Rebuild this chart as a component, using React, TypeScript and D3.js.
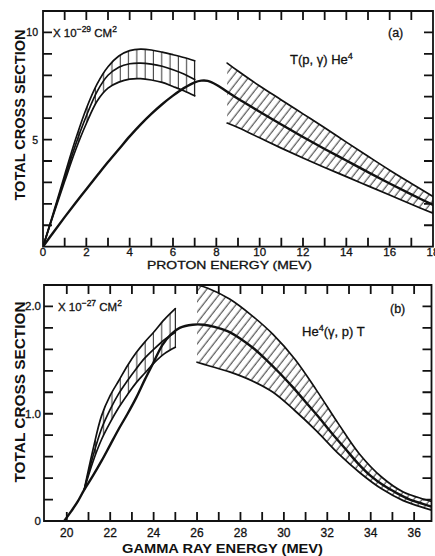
import React from 'react';
import * as d3 from 'd3';

// ---- panel (a): T(p, gamma) He4, x = proton energy (MeV), y = 1e-29 cm^2
const aTheoryX = [0, 0.5, 1, 1.5, 2, 2.5, 3, 3.5, 4, 4.5, 5, 5.5, 6, 6.5, 7, 7.3, 7.6, 8, 8.5, 9, 10, 11, 12, 13, 14, 15, 16, 17, 18];
const aTheoryY = [0, 0.7, 1.38, 2.04, 2.68, 3.32, 3.95, 4.55, 5.15, 5.7, 6.2, 6.65, 7.05, 7.4, 7.67, 7.75, 7.74, 7.56, 7.23, 6.9, 6.3, 5.7, 5.12, 4.56, 4.02, 3.48, 2.95, 2.44, 1.95];

const aBandX = [0, 0.5, 1, 1.5, 2, 2.5, 3, 3.5, 4, 4.5, 5, 5.5, 6, 6.5, 7];
const aBandHi = [0, 1.65, 3.35, 5.0, 6.45, 7.6, 8.4, 8.9, 9.15, 9.22, 9.18, 9.08, 8.96, 8.83, 8.68];
const aBandMid = [0, 1.6, 3.2, 4.75, 6.1, 7.25, 8.0, 8.38, 8.54, 8.57, 8.52, 8.42, 8.26, 8.06, 7.8];
const aBandLo = [0, 1.55, 3.05, 4.5, 5.75, 6.8, 7.4, 7.68, 7.82, 7.84, 7.78, 7.67, 7.48, 7.28, 7.04];

const aWideX = [8.5, 9, 10, 11, 12, 13, 14, 15, 16, 17, 18];
const aWideHi = [8.57, 8.2, 7.5, 6.85, 6.2, 5.55, 4.88, 4.22, 3.57, 2.95, 2.34];
const aWideLo = [5.77, 5.56, 5.08, 4.6, 4.14, 3.7, 3.27, 2.84, 2.41, 1.98, 1.56];

const aXTicks = d3.range(1, 18);
const aXLabels = [0, 2, 4, 6, 8, 10, 12, 14, 16, 18];
const aYTicks = d3.range(1, 11);
const aYLabels = [5, 10];

// ---- panel (b): He4(gamma, p) T, x = gamma ray energy (MeV), y = 1e-27 cm^2
const bTheoryX = [19.88, 20.2, 20.5, 20.8, 21.2, 21.6, 22, 22.4, 22.8, 23.2, 23.6, 24, 24.4, 24.8, 25.2, 25.8, 26.3, 26.8, 27.4, 28, 28.6, 29.2, 29.8, 30.4, 31, 31.6, 32.2, 32.8, 33.4, 34, 34.6, 35.2, 35.8, 36.4, 37];
const bTheoryY = [0, 0.09, 0.18, 0.29, 0.42, 0.56, 0.71, 0.86, 1.0, 1.15, 1.32, 1.48, 1.64, 1.74, 1.8, 1.83, 1.83, 1.81, 1.77, 1.7, 1.61, 1.5, 1.38, 1.25, 1.11, 0.97, 0.82, 0.68, 0.54, 0.42, 0.33, 0.26, 0.2, 0.16, 0.12];

const bBandX = [20.8, 21.2, 21.6, 22, 22.4, 22.8, 23.2, 23.6, 24, 24.5, 25];
const bBandHi = [0.29, 0.66, 0.98, 1.17, 1.31, 1.45, 1.57, 1.67, 1.76, 1.88, 1.98];
const bBandMid = [0.29, 0.6, 0.86, 1.04, 1.19, 1.31, 1.42, 1.52, 1.6, 1.69, 1.76];
const bBandLo = [0.29, 0.55, 0.76, 0.92, 1.06, 1.18, 1.29, 1.38, 1.47, 1.56, 1.62];

const bWideX = [26, 26.5, 27.5, 28.5, 29.5, 30.5, 31.5, 32.5, 33.5, 34.5, 35.5, 36.5, 37];
const bWideHi = [2.2, 2.17, 2.07, 1.92, 1.74, 1.51, 1.22, 0.91, 0.62, 0.41, 0.27, 0.2, 0.17];
const bWideLo = [1.48, 1.45, 1.39, 1.31, 1.2, 1.03, 0.84, 0.63, 0.45, 0.3, 0.19, 0.12, 0.09];

const bXTicks = d3.range(20, 37);
const bXLabels = [20, 22, 24, 26, 28, 30, 32, 34, 36];
const bYTicks = d3.range(1, 11).map((i) => i * 0.2);
const bYLabels = ['0', '1.0', '2.0'];

const INK = '#111';
const FONT = '"Liberation Sans", Arial, sans-serif';
const TICK = 9;

const zip = (xs, ys) => xs.map((x, i) => [x, ys[i]]);

function Panel(props) {
  const { id, xDomain, xRange, yDomain, yRange, theory, band, wide, xTicks, yTicks } = props;
  const x = d3.scaleLinear().domain(xDomain).range(xRange);
  const y = d3.scaleLinear().domain(yDomain).range(yRange);
  const curve = d3.curveCatmullRom.alpha(0.5);
  const line = d3.line().x((d) => x(d[0])).y((d) => y(d[1])).curve(curve);
  const area = d3.area().x((d) => x(d.x)).y0((d) => y(d.lo)).y1((d) => y(d.hi)).curve(curve);
  const rows = (xs, hi, lo) => xs.map((v, i) => ({ x: v, hi: hi[i], lo: lo[i] }));

  const [x0, x1] = xRange;
  const [y0, y1] = yRange; // y0 bottom, y1 top
  const last = band.x.length - 1;

  // frame and inward ticks in one path
  const p = d3.path();
  p.moveTo(x0, y1);
  p.lineTo(x1, y1);
  p.lineTo(x1, y0);
  p.lineTo(x0, y0);
  p.closePath();
  xTicks.forEach((t) => {
    p.moveTo(x(t), y0);
    p.lineTo(x(t), y0 - TICK);
    p.moveTo(x(t), y1);
    p.lineTo(x(t), y1 + TICK);
  });
  yTicks.forEach((t) => {
    p.moveTo(x0, y(t));
    p.lineTo(x0 + TICK, y(t));
    p.moveTo(x1, y(t));
    p.lineTo(x1 - TICK, y(t));
  });

  return (
    <g>
      <defs>
        <clipPath id={`clip-${id}`}>
          <rect x={x0} y={y1} width={x1 - x0} height={y0 - y1} />
        </clipPath>
      </defs>
      <g clipPath={`url(#clip-${id})`}>
        <path d={area(rows(band.x, band.hi, band.lo))} fill="url(#vhatch)" />
        <path d={area(rows(wide.x, wide.hi, wide.lo))} fill="url(#dhatch)" />
        <g fill="none" stroke={INK} strokeLinejoin="round" strokeLinecap="round">
          <path d={line(zip(band.x, band.hi))} strokeWidth={1.7} />
          <path d={line(zip(band.x, band.mid))} strokeWidth={1.7} />
          <path d={line(zip(band.x, band.lo))} strokeWidth={1.7} />
          <path d={`M${x(band.x[last])},${y(band.lo[last])}V${y(band.hi[last])}`} strokeWidth={1.1} />
          <path d={line(zip(wide.x, wide.hi))} strokeWidth={1.7} />
          <path d={line(zip(wide.x, wide.lo))} strokeWidth={1.7} />
          <path d={line(zip(theory.x, theory.y))} strokeWidth={2.4} />
        </g>
      </g>
      <path d={p.toString()} fill="none" stroke={INK} strokeWidth={1.8} />
      {props.children(x, y)}
    </g>
  );
}

export default function App() {
  return (
    <svg
      width={435}
      height={556}
      viewBox="0 0 435 556"
      style={{ position: 'absolute', left: 0, top: 0, background: '#fff' }}
      fontFamily={FONT}
    >
      <defs>
        <pattern id="vhatch" width={8.3} height={10} patternUnits="userSpaceOnUse">
          <path d="M4,0V10" stroke={INK} strokeWidth={0.9} />
        </pattern>
        <pattern id="dhatch" width={6.5} height={10} patternUnits="userSpaceOnUse" patternTransform="rotate(38)">
          <path d="M3,0V10" stroke={INK} strokeWidth={0.9} />
        </pattern>
      </defs>
      <rect width={435} height={556} fill="#fff" />

      <Panel
        id="a"
        xDomain={[0, 18]}
        xRange={[43, 433]}
        yDomain={[0, 11]}
        yRange={[246.7, 11]}
        theory={{ x: aTheoryX, y: aTheoryY }}
        band={{ x: aBandX, hi: aBandHi, mid: aBandMid, lo: aBandLo }}
        wide={{ x: aWideX, hi: aWideHi, lo: aWideLo }}
        xTicks={aXTicks}
        yTicks={aYTicks}
      >
        {(x, y) => (
          <g fill={INK} stroke={INK} strokeWidth={0.3}>
            {aXLabels.map((t) => (
              <text key={t} x={x(t)} y={256} fontSize={11.5} textAnchor="middle">{t}</text>
            ))}
            {aYLabels.map((t) => (
              <text key={t} x={38} y={y(t) + 4} fontSize={10.5} textAnchor="end">{t}</text>
            ))}
            <text x={53} y={36.5} fontSize={11.5}>
              X 10<tspan dy={-5} fontSize={8.5}>−29</tspan>
              <tspan dy={5}> CM</tspan>
              <tspan dy={-5} fontSize={8.5}>2</tspan>
            </text>
            <text x={388} y={37} fontSize={12.5}>(a)</text>
            <text x={290} y={64} fontSize={13}>
              T(p, γ) He<tspan dy={-5} fontSize={9}>4</tspan>
            </text>
            <text x={229.5} y={269} fontSize={11.5} textAnchor="middle" textLength={165} lengthAdjust="spacingAndGlyphs">
              PROTON ENERGY (MEV)
            </text>
            <text
              transform="translate(25,115) rotate(-90)"
              fontSize={15}
              fontWeight="bold"
              strokeWidth={0}
              textAnchor="middle"
              textLength={171}
              lengthAdjust="spacingAndGlyphs"
            >
              TOTAL CROSS SECTION
            </text>
          </g>
        )}
      </Panel>

      <Panel
        id="b"
        xDomain={[18.95, 36.8]}
        xRange={[44, 431.5]}
        yDomain={[0, 2.2]}
        yRange={[521, 285]}
        theory={{ x: bTheoryX, y: bTheoryY }}
        band={{ x: bBandX, hi: bBandHi, mid: bBandMid, lo: bBandLo }}
        wide={{ x: bWideX, hi: bWideHi, lo: bWideLo }}
        xTicks={bXTicks}
        yTicks={bYTicks}
      >
        {(x, y) => (
          <g fill={INK} stroke={INK} strokeWidth={0.3}>
            {bXLabels.map((t) => (
              <text key={t} x={x(t)} y={536.5} fontSize={12} textAnchor="middle">{t}</text>
            ))}
            {bYLabels.map((t) => (
              <text key={t} x={41} y={y(+t) + 4} fontSize={11.5} textAnchor="end">{t}</text>
            ))}
            <text x={58} y={311} fontSize={11.5}>
              X 10<tspan dy={-5} fontSize={8.5}>−27</tspan>
              <tspan dy={5}> CM</tspan>
              <tspan dy={-5} fontSize={8.5}>2</tspan>
            </text>
            <text x={390} y={313} fontSize={12.5}>(b)</text>
            <text x={302} y={336} fontSize={13}>
              He<tspan dy={-5} fontSize={9}>4</tspan>
              <tspan dy={5}>(γ, p) T</tspan>
            </text>
            <text x={222.5} y={553} fontSize={13} fontWeight="bold" strokeWidth={0} textAnchor="middle" textLength={201} lengthAdjust="spacingAndGlyphs">
              GAMMA RAY ENERGY (MEV)
            </text>
            <text
              transform="translate(25,392) rotate(-90)"
              fontSize={15.5}
              fontWeight="bold"
              strokeWidth={0}
              textAnchor="middle"
              textLength={181}
              lengthAdjust="spacingAndGlyphs"
            >
              TOTAL CROSS SECTION
            </text>
          </g>
        )}
      </Panel>
    </svg>
  );
}
